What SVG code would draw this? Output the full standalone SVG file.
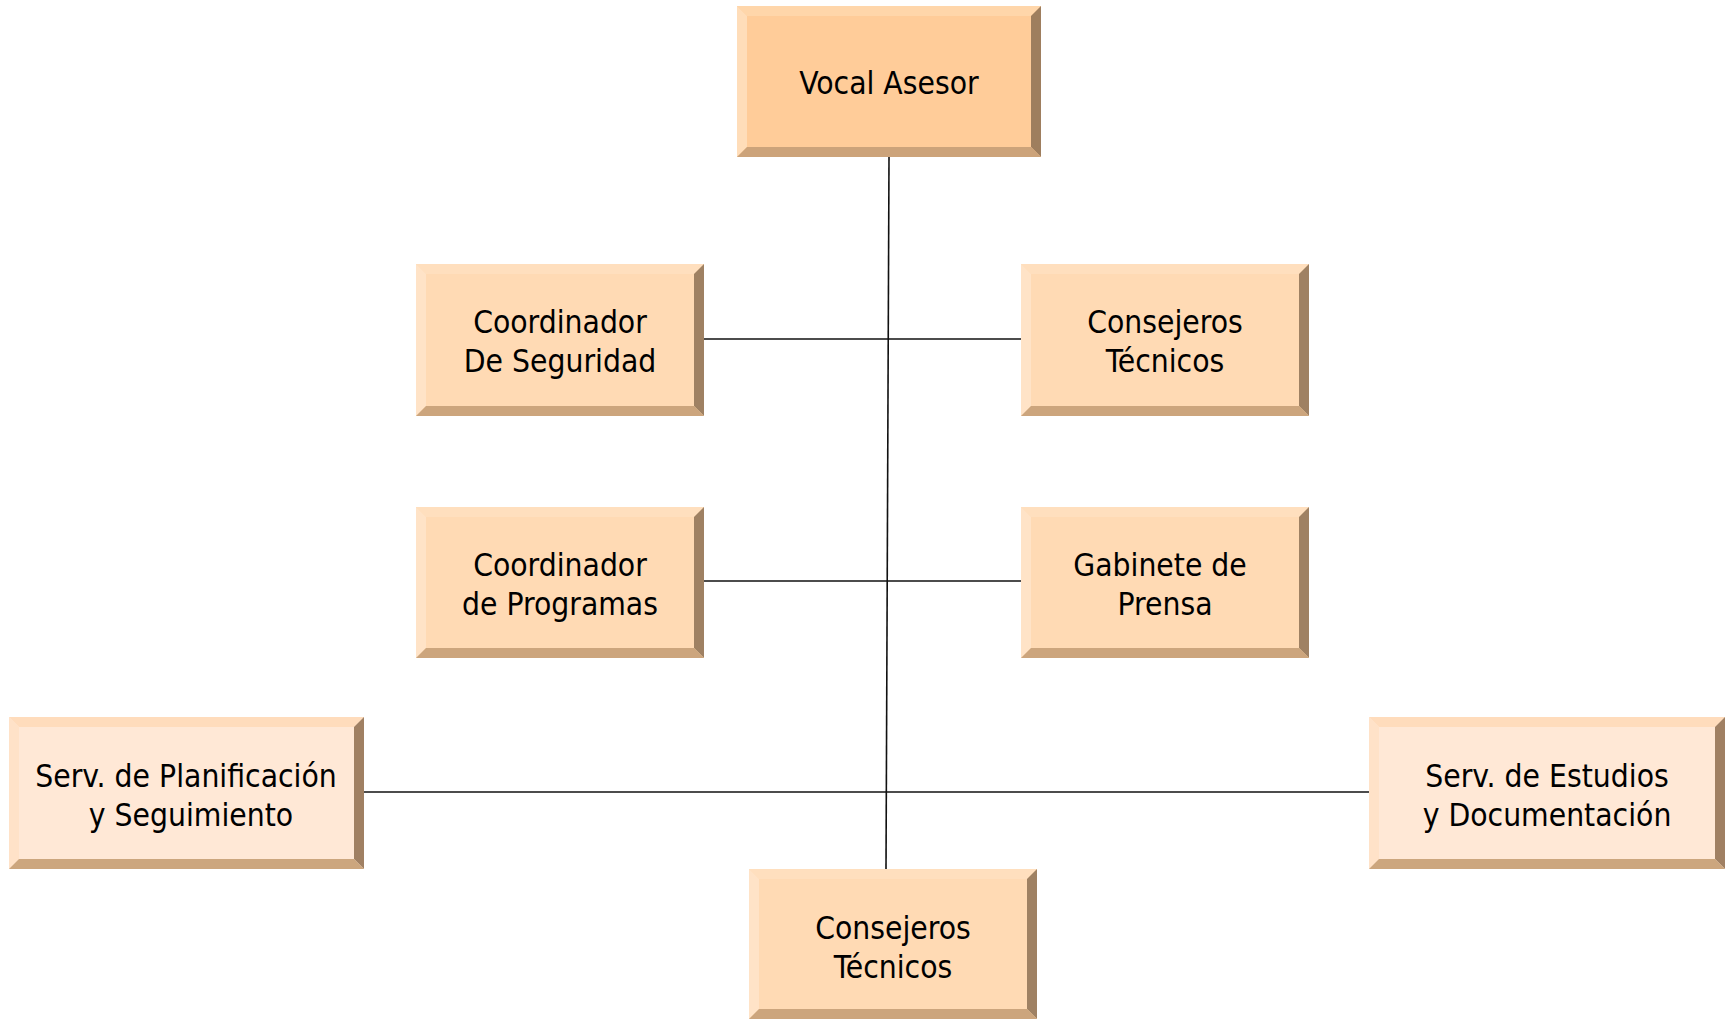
<svg xmlns="http://www.w3.org/2000/svg" width="1732" height="1019" viewBox="0 0 1732 1019">
<style>
  text { font-family: "DejaVu Sans Condensed", "DejaVu Sans", sans-serif; font-stretch: condensed; font-size: 31.5px; fill: #000; text-anchor: middle; }
  .conn { stroke: #111; stroke-width: 1.6; fill: none; }
  .a .face { fill: #FFCC99; } .a .top { fill: #FFD6AA; } .a .left { fill: #FFDDB9; } .a .right { fill: #9E7E5E; } .a .bot { fill: #CCA37A; }
  .b .face { fill: #FFDAB4; } .b .top { fill: #FFDFBE; } .b .left { fill: #FFE3C7; } .b .right { fill: #9F8163; } .b .bot { fill: #CCA57D; }
  .c .face { fill: #FFE8D6; } .c .top { fill: #FFDCBC; } .c .left { fill: #FFE2C8; } .c .right { fill: #A08063; } .c .bot { fill: #CCA67E; }
</style>
<rect width="1732" height="1019" fill="#fff"/>
<g id="connectors">
  <line class="conn" x1="889" y1="157" x2="886" y2="869"/>
  <line class="conn" x1="704" y1="339" x2="1021" y2="339"/>
  <line class="conn" x1="704" y1="581" x2="1021" y2="581"/>
  <line class="conn" x1="364" y1="792" x2="1369" y2="792"/>
</g>
<g id="vocal-asesor" class="a">
  <rect class="face" x="737" y="6" width="304" height="151"/>
  <polygon class="top" points="737,6 1041,6 1031,16 747,16"/>
  <polygon class="left" points="737,6 747,16 747,147 737,157"/>
  <polygon class="right" points="1041,6 1041,157 1031,147 1031,16"/>
  <polygon class="bot" points="737,157 1041,157 1031,147 747,147"/>
  <text x="889" y="94">Vocal Asesor</text>
</g>
<g id="coordinador-seguridad" class="b">
  <rect class="face" x="416" y="264" width="288" height="152"/>
  <polygon class="top" points="416,264 704,264 694,274 426,274"/>
  <polygon class="left" points="416,264 426,274 426,406 416,416"/>
  <polygon class="right" points="704,264 704,416 694,406 694,274"/>
  <polygon class="bot" points="416,416 704,416 694,406 426,406"/>
  <text x="560" y="333">Coordinador</text>
  <text x="560" y="372">De Seguridad</text>
</g>
<g id="consejeros-tecnicos-1" class="b">
  <rect class="face" x="1021" y="264" width="288" height="152"/>
  <polygon class="top" points="1021,264 1309,264 1299,274 1031,274"/>
  <polygon class="left" points="1021,264 1031,274 1031,406 1021,416"/>
  <polygon class="right" points="1309,264 1309,416 1299,406 1299,274"/>
  <polygon class="bot" points="1021,416 1309,416 1299,406 1031,406"/>
  <text x="1165" y="333">Consejeros</text>
  <text x="1165" y="372">Técnicos</text>
</g>
<g id="coordinador-programas" class="b">
  <rect class="face" x="416" y="507" width="288" height="151"/>
  <polygon class="top" points="416,507 704,507 694,517 426,517"/>
  <polygon class="left" points="416,507 426,517 426,648 416,658"/>
  <polygon class="right" points="704,507 704,658 694,648 694,517"/>
  <polygon class="bot" points="416,658 704,658 694,648 426,648"/>
  <text x="560" y="576">Coordinador</text>
  <text x="560" y="615">de Programas</text>
</g>
<g id="gabinete-prensa" class="b">
  <rect class="face" x="1021" y="507" width="288" height="151"/>
  <polygon class="top" points="1021,507 1309,507 1299,517 1031,517"/>
  <polygon class="left" points="1021,507 1031,517 1031,648 1021,658"/>
  <polygon class="right" points="1309,507 1309,658 1299,648 1299,517"/>
  <polygon class="bot" points="1021,658 1309,658 1299,648 1031,648"/>
  <text x="1160" y="576">Gabinete de</text>
  <text x="1165" y="615">Prensa</text>
</g>
<g id="serv-planificacion" class="c">
  <rect class="face" x="9" y="717" width="355" height="152"/>
  <polygon class="top" points="9,717 364,717 354,727 19,727"/>
  <polygon class="left" points="9,717 19,727 19,859 9,869"/>
  <polygon class="right" points="364,717 364,869 354,859 354,727"/>
  <polygon class="bot" points="9,869 364,869 354,859 19,859"/>
  <text x="186" y="787">Serv. de Planificación</text>
  <text x="191" y="826">y Seguimiento</text>
</g>
<g id="serv-estudios" class="c">
  <rect class="face" x="1369" y="717" width="356" height="152"/>
  <polygon class="top" points="1369,717 1725,717 1715,727 1379,727"/>
  <polygon class="left" points="1369,717 1379,727 1379,859 1369,869"/>
  <polygon class="right" points="1725,717 1725,869 1715,859 1715,727"/>
  <polygon class="bot" points="1369,869 1725,869 1715,859 1379,859"/>
  <text x="1547" y="787">Serv. de Estudios</text>
  <text x="1547" y="826">y Documentación</text>
</g>
<g id="consejeros-tecnicos-2" class="b">
  <rect class="face" x="749" y="869" width="288" height="150"/>
  <polygon class="top" points="749,869 1037,869 1027,879 759,879"/>
  <polygon class="left" points="749,869 759,879 759,1009 749,1019"/>
  <polygon class="right" points="1037,869 1037,1019 1027,1009 1027,879"/>
  <polygon class="bot" points="749,1019 1037,1019 1027,1009 759,1009"/>
  <text x="893" y="939">Consejeros</text>
  <text x="893" y="978">Técnicos</text>
</g>
</svg>
